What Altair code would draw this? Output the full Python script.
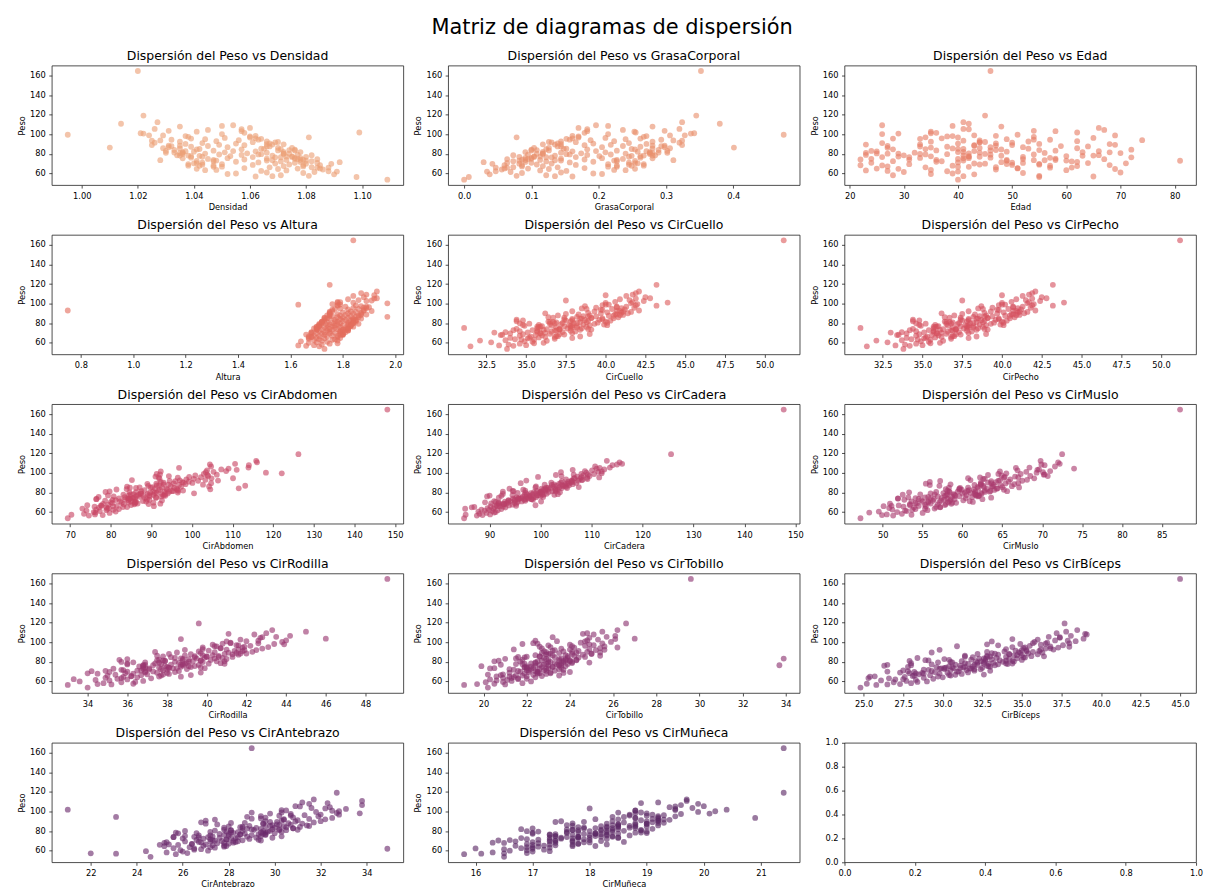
import altair as alt
import pandas as pd

# ---------------- data ----------------
peso = [
    53.7, 56.4, 56.9, 57.3, 57.6, 58.2, 59.1, 60.0, 60.5, 61.0,
    61.5, 62.0, 62.6, 63.1, 63.6, 64.1, 64.6, 65.0, 65.5, 65.9,
    66.3, 66.8, 67.2, 67.6, 68.0, 68.4, 68.8, 69.2, 69.5, 69.9,
    70.2, 70.6, 70.9, 71.3, 71.6, 72.0, 72.3, 72.6, 73.0, 73.3,
    73.6, 73.9, 74.3, 74.6, 74.9, 75.2, 75.6, 75.9, 76.2, 76.5,
    76.8, 77.1, 77.5, 77.8, 78.1, 78.4, 78.7, 79.0, 79.4, 79.7,
    80.0, 80.3, 80.6, 81.0, 81.3, 81.6, 81.9, 82.3, 82.6, 82.9,
    83.3, 83.6, 84.0, 84.3, 84.7, 85.0, 85.4, 85.8, 86.1, 86.5,
    86.9, 87.3, 87.7, 88.1, 88.5, 88.9, 89.3, 89.8, 90.2, 90.6,
    91.1, 91.5, 92.0, 92.5, 93.0, 93.5, 94.0, 94.5, 95.1, 95.7,
    96.3, 96.9, 97.5, 98.2, 98.9, 99.6, 100.3, 101.1, 101.9, 102.7,
    103.6, 104.5, 105.5, 106.6, 107.9, 109.3, 110.8, 112.4, 119.2, 164.7,
    72.5, 88.0, 64.8, 79.2, 95.4, 70.4, 83.1, 76.9, 91.8, 67.9,
    81.7, 74.2, 98.5, 69.0, 86.2, 77.7, 62.3, 92.7, 80.9, 75.0,
    84.9, 71.1, 78.3, 96.8, 66.4, 89.5, 73.8, 82.0, 101.5, 70.0,
    77.3, 93.8, 68.6, 85.6, 74.7, 80.5, 63.4, 90.8, 79.9, 105.2,
    72.9, 87.6, 76.0, 99.0, 82.8, 67.0, 94.6, 78.6, 71.8, 86.8,
    59.5, 83.9, 75.5, 90.1, 80.2, 69.6, 97.9, 73.2, 88.4, 76.6,
    65.2, 81.1, 103.2, 74.0, 92.2, 78.0, 85.2, 70.8, 100.8, 83.5,
    77.0, 68.2, 89.0, 95.9, 73.5, 81.4, 108.6, 66.0, 84.6, 79.5,
]
densidad = [
    1.109, 1.098, 1.062, 1.068, 1.081, 1.071, 1.090, 1.055, 1.079, 1.066,
    1.083, 1.091, 1.064, 1.073, 1.048, 1.086, 1.070, 1.077, 1.058, 1.084,
    1.067, 1.047, 1.079, 1.072, 1.038, 1.085, 1.061, 1.074, 1.050, 1.089,
    1.069, 1.041, 1.076, 1.063, 1.092, 1.055, 1.071, 1.047, 1.080, 1.066,
    1.028, 1.073, 1.058, 1.084, 1.045, 1.066, 1.052, 1.078, 1.039, 1.069,
    1.061, 1.043, 1.075, 1.053, 1.068, 1.035, 1.082, 1.057, 1.049, 1.064,
    1.072, 1.044, 1.059, 1.036, 1.066, 1.051, 1.078, 1.040, 1.062, 1.054,
    1.047, 1.070, 1.033, 1.076, 1.057, 1.042, 1.064, 1.029, 1.075, 1.010,
    1.052, 1.039, 1.067, 1.045, 1.031, 1.058, 1.049, 1.072, 1.037, 1.055,
    1.043, 1.026, 1.061, 1.035, 1.048, 1.025, 1.056, 1.032, 1.044, 1.039,
    1.051, 1.081, 1.038, 1.037, 1.029, 0.995, 1.050, 1.021, 1.099, 1.041,
    1.031, 1.045, 1.026, 1.060, 1.035, 1.054, 1.014, 1.027, 1.022, 1.020,
    1.082, 1.032, 1.041, 1.077, 1.064, 1.040, 1.030, 1.075, 1.069, 1.042,
    1.036, 1.079, 1.062, 1.043, 1.070, 1.039, 1.088, 1.066, 1.035, 1.076,
    1.071, 1.043, 1.038, 1.060, 1.082, 1.068, 1.078, 1.072, 1.058, 1.080,
    1.073, 1.028, 1.079, 1.035, 1.077, 1.072, 1.044, 1.067, 1.036, 1.057,
    1.041, 1.066, 1.076, 1.024, 1.037, 1.050, 1.063, 1.034, 1.078, 1.031,
    1.052, 1.074, 1.036, 1.066, 1.074, 1.038, 1.060, 1.048, 1.035, 1.071,
    1.085, 1.030, 1.057, 1.047, 1.070, 1.042, 1.065, 1.084, 1.022, 1.076,
    1.080, 1.047, 1.025, 1.062, 1.068, 1.033, 1.050, 1.088, 1.041, 1.063,
]
grasa = [
    0.000, 0.007, 0.161, 0.135, 0.078, 0.122, 0.038, 0.192, 0.086, 0.144,
    0.069, 0.034, 0.152, 0.113, 0.223, 0.056, 0.126, 0.095, 0.179, 0.064,
    0.139, 0.227, 0.086, 0.117, 0.267, 0.060, 0.166, 0.108, 0.214, 0.042,
    0.130, 0.254, 0.100, 0.157, 0.029, 0.192, 0.122, 0.227, 0.082, 0.144,
    0.311, 0.113, 0.179, 0.064, 0.236, 0.144, 0.205, 0.091, 0.262, 0.130,
    0.166, 0.245, 0.104, 0.201, 0.135, 0.280, 0.073, 0.183, 0.218, 0.152,
    0.117, 0.240, 0.174, 0.276, 0.144, 0.210, 0.091, 0.258, 0.161, 0.196,
    0.227, 0.126, 0.289, 0.100, 0.183, 0.249, 0.152, 0.306, 0.104, 0.401,
    0.205, 0.262, 0.139, 0.236, 0.298, 0.179, 0.218, 0.117, 0.271, 0.192,
    0.245, 0.320, 0.166, 0.280, 0.223, 0.324, 0.188, 0.293, 0.240, 0.262,
    0.210, 0.078, 0.267, 0.271, 0.306, 0.475, 0.214, 0.342, 0.255, 0.253,
    0.298, 0.236, 0.320, 0.170, 0.280, 0.196, 0.380, 0.324, 0.345, 0.352,
    0.073, 0.293, 0.254, 0.095, 0.152, 0.258, 0.302, 0.104, 0.130, 0.249,
    0.276, 0.086, 0.161, 0.245, 0.126, 0.262, 0.047, 0.144, 0.280, 0.100,
    0.122, 0.245, 0.267, 0.170, 0.073, 0.135, 0.091, 0.117, 0.179, 0.082,
    0.113, 0.311, 0.086, 0.280, 0.095, 0.117, 0.240, 0.139, 0.276, 0.183,
    0.254, 0.144, 0.100, 0.328, 0.271, 0.214, 0.157, 0.284, 0.091, 0.298,
    0.205, 0.108, 0.280, 0.144, 0.108, 0.267, 0.170, 0.223, 0.280, 0.122,
    0.060, 0.302, 0.183, 0.227, 0.126, 0.249, 0.148, 0.064, 0.337, 0.100,
    0.082, 0.227, 0.324, 0.161, 0.135, 0.289, 0.214, 0.047, 0.254, 0.157,
]
edad = [
    40, 55, 65, 41, 55, 28, 43, 39, 52, 70,
    30, 40, 27, 23, 35, 47, 69, 25, 51, 57,
    34, 42, 27, 62, 39, 22, 50, 44, 31, 55,
    43, 64, 24, 40, 48, 36, 61, 28, 81, 41,
    54, 49, 22, 67, 40, 58, 42, 33, 46, 72,
    26, 44, 35, 60, 48, 41, 66, 23, 54, 38,
    45, 29, 42, 56, 32, 68, 40, 49, 25, 43,
    58, 36, 47, 72, 28, 41, 53, 62, 44, 35,
    52, 38, 64, 27, 47, 43, 69, 33, 55, 40,
    26, 50, 44, 35, 62, 41, 74, 57, 49, 28,
    65, 34, 54, 39, 69, 51, 26, 35, 62, 35,
    54, 67, 41, 66, 48, 26, 42, 41, 45, 46,
    37, 59, 29, 46, 33, 71, 24, 52, 44, 57,
    63, 31, 47, 55, 27, 42, 38, 53, 70, 24,
    34, 50, 65, 40, 47, 23, 58, 41, 36, 45,
    29, 44, 68, 39, 52, 25, 60, 47, 33, 42,
    49, 33, 57, 43, 66, 40, 54, 30, 62, 46,
    35, 55, 41, 68, 27, 49, 38, 60, 43, 31,
    51, 23, 58, 36, 45, 63, 40, 52, 29, 46,
    42, 26, 50, 37, 56, 44, 39, 61, 48, 34,
]
altura = [
    1.73, 1.71, 1.66, 1.63, 1.69, 1.72, 1.75, 1.67, 1.70, 1.74,
    1.64, 1.72, 1.69, 1.76, 1.71, 1.67, 1.73, 1.70, 1.78, 1.68,
    1.74, 1.71, 1.76, 1.69, 1.73, 1.66, 1.80, 1.72, 1.75, 1.70,
    1.77, 1.73, 1.68, 1.75, 1.79, 1.71, 1.74, 1.82, 1.70, 1.76,
    1.72, 1.78, 1.75, 1.69, 1.81, 1.74, 1.77, 1.73, 1.79, 1.84,
    1.76, 1.71, 1.80, 1.77, 1.74, 1.83, 1.78, 1.75, 1.86, 1.72,
    1.79, 1.76, 1.82, 1.74, 1.78, 1.85, 1.77, 1.80, 1.73, 1.83,
    1.81, 1.77, 1.84, 1.79, 1.87, 1.75, 1.82, 1.80, 1.78, 1.97,
    1.76, 1.83, 1.79, 1.86, 1.81, 1.89, 1.78, 1.84, 1.82, 1.87,
    1.80, 1.85, 1.83, 1.91, 0.75, 1.88, 1.82, 1.86, 1.79, 1.84,
    1.90, 1.81, 1.87, 1.85, 1.63, 1.76, 1.97, 1.84, 1.78, 1.89,
    1.86, 1.82, 1.93, 1.88, 1.84, 1.89, 1.87, 1.93, 1.75, 1.84,
    1.82, 1.74, 1.79, 1.71, 1.89, 1.68, 1.85, 1.83, 1.75, 1.80,
    1.72, 1.82, 1.78, 1.80, 1.86, 1.71, 1.78, 1.88, 1.84, 1.70,
    1.74, 1.80, 1.82, 1.89, 1.67, 1.87, 1.70, 1.84, 1.79, 1.79,
    1.83, 1.76, 1.80, 1.73, 1.82, 1.72, 1.77, 1.75, 1.84, 1.92,
    1.80, 1.75, 1.70, 1.79, 1.84, 1.78, 1.77, 1.71, 1.79, 1.85,
    1.78, 1.73, 1.82, 1.75, 1.84, 1.68, 1.78, 1.81, 1.87, 1.70,
    1.67, 1.72, 1.91, 1.70, 1.76, 1.83, 1.73, 1.81, 1.78, 1.85,
    1.71, 1.79, 1.75, 1.88, 1.80, 1.72, 1.92, 1.68, 1.84, 1.82,
]
cir_cuello = [
    33.8, 31.5, 34.2, 33.3, 35.0, 33.9, 34.6, 36.1, 32.8, 35.4,
    34.9, 36.3, 33.7, 35.5, 34.3, 36.8, 35.1, 34.0, 35.8, 36.2,
    35.3, 37.0, 34.6, 36.0, 35.6, 37.4, 34.8, 36.5, 35.9, 37.9,
    36.2, 35.1, 37.3, 36.6, 38.1, 35.7, 37.8, 36.9, 35.4, 38.4,
    37.1, 36.3, 34.4, 37.6, 38.5, 31.1, 36.9, 37.9, 38.8, 35.9,
    37.4, 38.2, 36.6, 39.0, 37.7, 35.8, 38.6, 37.2, 39.3, 36.8,
    38.0, 37.3, 39.5, 38.4, 36.5, 40.0, 37.8, 38.9, 40.3, 37.5,
    38.7, 34.4, 39.8, 37.9, 38.5, 40.5, 39.1, 37.4, 40.8, 38.2,
    39.4, 38.6, 40.2, 39.0, 41.1, 38.3, 40.6, 39.7, 41.4, 38.9,
    40.1, 41.6, 39.3, 40.9, 42.1, 39.8, 41.2, 40.4, 38.5, 41.8,
    40.7, 41.3, 38.7, 41.9, 40.0, 42.0, 41.6, 43.9, 40.6, 42.4,
    41.5, 40.9, 42.8, 42.5, 41.3, 41.7, 41.9, 42.1, 43.2, 51.2,
    36.8, 37.0, 37.9, 36.5, 41.0, 33.0, 37.9, 36.0, 41.1, 33.4,
    36.4, 38.9, 39.8, 39.0, 36.4, 37.9, 32.1, 40.7, 36.9, 37.8,
    39.8, 35.7, 34.8, 40.7, 38.4, 37.5, 37.1, 34.4, 41.7, 35.9,
    34.9, 39.7, 37.1, 36.7, 35.7, 40.1, 34.7, 41.0, 34.6, 41.9,
    34.2, 40.5, 35.8, 40.2, 34.8, 36.9, 38.8, 39.9, 34.6, 38.9,
    35.5, 37.4, 38.2, 36.2, 38.2, 34.0, 43.2, 36.1, 40.9, 35.7,
    35.2, 38.8, 37.5, 37.1, 37.9, 40.1, 39.1, 33.7, 40.0, 39.6,
    37.8, 33.5, 40.7, 39.4, 39.1, 36.7, 40.0, 36.8, 38.4, 35.2,
]
# the reference's "CirPecho" panel shows exactly the same cloud as "CirCuello"
cir_pecho = cir_cuello
cir_abdomen = [
    69.4, 74.6, 78.0, 70.3, 76.1, 73.4, 79.7, 75.8, 81.2, 77.3,
    74.0, 78.9, 76.4, 82.0, 73.0, 79.5, 77.1, 84.0, 76.0, 80.6,
    81.5, 77.6, 85.0, 79.4, 83.2, 78.1, 86.6, 80.3, 82.7, 84.4,
    80.0, 85.8, 82.3, 87.9, 78.6, 84.3, 81.2, 89.5, 83.5, 86.0,
    84.8, 82.0, 88.4, 85.5, 91.2, 83.4, 87.1, 80.7, 89.6, 86.3,
    88.0, 84.4, 90.5, 86.8, 92.7, 85.6, 89.1, 94.0, 87.4, 91.3,
    89.7, 86.2, 93.2, 90.4, 87.5, 95.1, 91.7, 88.3, 96.4, 92.1,
    104.5, 93.7, 90.9, 111.5, 95.6, 89.8, 92.6, 97.3, 84.0, 94.8,
    113.1, 91.3, 96.8, 94.2, 98.4, 89.0, 95.5, 100.1, 93.0, 97.6,
    99.2, 95.9, 101.5, 97.0, 103.3, 98.6, 100.4, 104.8, 96.5, 102.2,
    91.0, 104.0, 100.8, 106.1, 102.9, 122.1, 118.2, 105.3, 108.4, 103.7,
    107.2, 109.0, 113.9, 104.7, 114.0, 110.6, 116.0, 115.8, 126.2, 148.1,
    80.4, 102.7, 78.9, 100.5, 91.8, 86.2, 81.4, 93.0, 94.5, 85.8,
    96.6, 84.2, 92.1, 85.9, 104.2, 83.1, 80.6, 85.2, 94.4, 85.8,
    84.7, 85.0, 93.3, 94.3, 77.7, 104.7, 84.5, 97.8, 92.3, 86.0,
    89.4, 92.0, 92.2, 90.2, 91.1, 78.7, 79.1, 92.3, 96.5, 96.8,
    88.9, 91.9, 92.4, 91.3, 93.9, 74.2, 110.1, 87.4, 92.6, 89.2,
    76.2, 96.2, 77.0, 97.9, 84.6, 90.5, 103.8, 76.4, 93.0, 93.4,
    83.0, 79.7, 111.0, 84.6, 106.4, 84.9, 87.1, 88.7, 103.4, 83.9,
    79.3, 89.3, 91.2, 99.3, 76.5, 95.3, 104.4, 90.6, 86.2, 90.8,
]
cir_cadera = [
    85.0, 87.5, 88.6, 85.3, 90.1, 88.0, 89.4, 91.2, 87.8, 90.5,
    89.0, 91.6, 88.4, 92.3, 90.7, 89.6, 93.1, 91.0, 92.6, 90.2,
    92.0, 93.8, 91.4, 94.5, 92.9, 95.2, 93.3, 91.8, 94.9, 93.6,
    95.5, 93.0, 96.3, 94.1, 97.0, 95.0, 93.7, 96.8, 95.7, 98.2,
    94.6, 97.5, 96.0, 98.6, 95.3, 99.1, 97.2, 96.5, 98.0, 100.0,
    97.8, 99.5, 96.9, 100.6, 98.4, 97.3, 101.2, 99.0, 98.1, 100.3,
    99.8, 98.7, 101.6, 100.0, 102.3, 99.3, 101.0, 102.9, 100.5, 103.4,
    101.4, 103.0, 100.2, 104.1, 102.0, 101.1, 103.7, 105.0, 102.6, 104.4,
    103.1, 105.6, 102.2, 104.8, 106.3, 103.6, 105.2, 107.0, 104.0, 106.0,
    105.4, 104.2, 107.4, 106.1, 108.2, 105.0, 107.7, 106.6, 109.1, 108.0,
    107.2, 109.6, 108.4, 106.5, 110.5, 112.0, 109.0, 111.3, 108.7, 110.1,
    112.5, 111.0, 113.6, 110.7, 114.1, 116.0, 115.5, 113.0, 125.6, 147.7,
    98.5, 100.8, 86.5, 99.9, 111.5, 91.2, 101.0, 90.0, 106.1, 92.7,
    94.5, 96.3, 109.3, 90.3, 99.1, 102.7, 89.9, 108.1, 92.6, 97.7,
    101.5, 90.9, 103.4, 104.1, 95.2, 96.1, 95.6, 97.0, 112.0, 89.1,
    94.5, 109.2, 92.7, 107.5, 91.8, 100.1, 85.2, 106.3, 97.0, 111.6,
    94.9, 104.2, 89.5, 108.0, 96.6, 99.0, 106.6, 92.6, 93.7, 104.8,
    90.9, 93.9, 100.5, 102.1, 103.8, 91.8, 103.0, 98.2, 102.6, 92.3,
    87.0, 103.0, 106.3, 95.7, 97.2, 100.3, 99.0, 100.1, 104.0, 100.8,
    99.2, 91.8, 105.5, 99.5, 97.1, 94.7, 115.0, 91.5, 105.2, 95.5,
]
cir_muslo = [
    47.2, 51.3, 49.9, 53.6, 50.5, 52.4, 55.0, 51.8, 49.5, 53.0,
    52.8, 55.6, 51.2, 54.1, 56.5, 50.8, 53.9, 57.2, 52.6, 55.4,
    54.5, 52.0, 57.8, 55.3, 53.4, 58.6, 56.0, 54.1, 59.2, 55.7,
    57.1, 55.0, 53.6, 58.4, 56.3, 60.1, 54.8, 57.7, 59.0, 56.4,
    58.1, 56.0, 60.4, 57.4, 55.3, 61.2, 58.7, 56.9, 59.6, 62.0,
    57.8, 60.5, 59.0, 61.7, 56.5, 58.9, 62.4, 60.0, 57.6, 61.0,
    60.3, 58.4, 62.8, 59.4, 61.6, 63.5, 58.1, 60.8, 64.0, 59.9,
    61.4, 63.1, 59.6, 64.4, 62.0, 60.7, 65.0, 61.9, 63.7, 66.2,
    62.6, 64.8, 61.5, 63.9, 66.5, 62.3, 65.4, 67.0, 63.2, 64.2,
    65.8, 63.6, 67.5, 64.7, 68.1, 66.0, 62.8, 69.0, 65.2, 67.0,
    66.6, 68.5, 64.9, 70.2, 67.3, 65.5, 69.3, 68.0, 71.0, 66.9,
    69.6, 74.0, 68.4, 71.6, 70.3, 72.2, 72.0, 69.8, 72.5, 87.3,
    52.7, 62.3, 57.2, 56.0, 62.2, 61.3, 59.6, 62.1, 57.2, 56.9,
    60.6, 54.1, 70.3, 54.3, 63.8, 52.5, 53.7, 61.0, 63.4, 53.2,
    58.3, 60.9, 58.1, 70.7, 51.1, 63.6, 51.9, 62.8, 64.7, 58.2,
    61.7, 62.6, 50.9, 62.7, 63.6, 56.7, 55.3, 55.9, 61.6, 66.7,
    58.5, 55.9, 61.9, 64.5, 65.2, 53.4, 60.7, 61.5, 57.3, 57.1,
    48.3, 64.3, 55.7, 62.3, 53.3, 58.7, 63.2, 62.5, 58.5, 59.1,
    56.7, 58.3, 69.4, 51.9, 64.5, 54.7, 67.1, 55.7, 70.1, 57.9,
    58.0, 57.9, 55.4, 65.3, 54.5, 65.6, 69.9, 50.1, 59.7, 62.3,
]
cir_rodilla = [
    34.0, 33.0, 35.2, 34.5, 36.3, 34.8, 35.7, 33.6, 36.8, 35.1,
    34.4, 36.0, 35.5, 37.2, 34.9, 36.5, 35.8, 37.6, 36.2, 35.0,
    36.7, 35.4, 37.0, 38.1, 36.3, 35.9, 37.5, 36.9, 38.4, 36.0,
    37.3, 38.6, 36.5, 37.8, 35.8, 38.0, 37.1, 39.0, 36.8, 38.3,
    38.5, 36.9, 37.6, 39.2, 38.0, 36.6, 39.4, 37.9, 38.8, 37.3,
    39.6, 38.2, 37.7, 38.9, 40.1, 37.4, 39.0, 38.6, 36.9, 39.8,
    38.4, 39.3, 40.5, 37.9, 39.7, 38.8, 40.2, 37.6, 39.1, 41.0,
    39.5, 38.7, 40.8, 39.9, 38.2, 41.3, 40.0, 39.4, 40.6, 38.9,
    40.3, 41.6, 39.2, 40.9, 42.0, 39.7, 41.1, 40.4, 42.3, 39.6,
    41.4, 40.1, 42.5, 41.0, 39.8, 42.8, 40.7, 41.8, 43.1, 40.5,
    42.2, 41.5, 40.3, 43.4, 42.6, 41.2, 43.8, 42.0, 44.0, 41.7,
    46.0, 42.7, 43.5, 44.2, 42.4, 43.0, 45.0, 43.3, 39.6, 49.1,
    37.7, 38.1, 38.7, 37.6, 41.9, 34.2, 38.8, 36.9, 41.9, 34.5,
    37.5, 39.7, 40.8, 39.7, 37.5, 38.8, 33.3, 41.6, 37.9, 38.7,
    40.6, 36.7, 36.0, 41.6, 39.2, 38.5, 38.1, 35.6, 42.6, 36.9,
    36.0, 40.7, 38.0, 37.8, 36.8, 40.9, 35.7, 41.8, 35.7, 42.8,
    35.3, 41.3, 36.8, 41.2, 36.0, 37.8, 39.8, 40.7, 35.7, 39.8,
    36.4, 38.4, 39.1, 37.4, 39.1, 35.1, 43.9, 37.1, 41.7, 36.8,
    36.2, 39.7, 38.7, 38.1, 38.9, 40.9, 40.0, 34.9, 41.0, 40.4,
    38.7, 34.0, 41.5, 40.4, 39.9, 37.8, 41.1, 37.7, 39.4, 36.3,
]
cir_tobillo = [
    20.2, 19.1, 21.0, 19.7, 20.5, 21.8, 20.1, 22.2, 21.3, 20.6,
    21.1, 20.3, 22.0, 21.6, 20.9, 22.4, 21.4, 20.6, 22.7, 21.8,
    21.5, 22.3, 20.9, 22.9, 21.9, 22.6, 21.2, 23.1, 22.1, 21.7,
    22.5, 21.6, 23.3, 22.0, 22.8, 21.4, 23.5, 22.2, 22.6, 23.0,
    22.3, 23.6, 21.9, 22.7, 23.2, 22.0, 23.8, 22.4, 23.0, 33.7,
    22.6, 23.4, 21.8, 23.9, 22.9, 22.2, 24.1, 23.3, 22.4, 23.7,
    23.1, 22.5, 24.0, 23.5, 22.7, 24.3, 23.0, 21.8, 23.8, 22.9,
    33.9, 23.6, 22.8, 24.4, 23.3, 24.7, 22.6, 23.9, 24.2, 23.2,
    23.8, 24.6, 23.0, 24.1, 25.0, 23.5, 24.3, 22.9, 24.8, 23.7,
    24.4, 23.2, 25.2, 24.0, 24.9, 23.6, 25.4, 24.2, 23.1, 25.6,
    24.7, 25.1, 24.0, 21.8, 25.5, 24.5, 25.9, 23.4, 24.8, 25.3,
    27.0, 24.9, 25.7, 26.1, 25.1, 24.8, 25.5, 26.2, 26.6, 29.6,
    21.2, 25.0, 21.2, 24.9, 22.6, 22.4, 21.0, 23.5, 23.3, 22.5,
    24.0, 21.9, 22.5, 22.5, 25.4, 21.5, 21.6, 21.4, 23.7, 22.2,
    21.6, 22.1, 23.6, 23.0, 20.8, 25.4, 22.0, 24.3, 22.4, 22.5,
    22.8, 22.7, 23.7, 22.6, 23.2, 20.5, 21.3, 22.8, 24.1, 23.2,
    22.9, 22.9, 23.5, 22.3, 23.5, 20.2, 26.2, 22.4, 23.7, 22.4,
    20.9, 23.9, 19.9, 24.1, 21.7, 24.0, 24.9, 20.3, 23.1, 23.6,
    22.0, 20.7, 26.1, 22.0, 25.6, 21.9, 22.0, 22.9, 24.7, 21.5,
    20.8, 23.1, 22.7, 24.1, 20.5, 23.8, 24.6, 23.5, 21.9, 23.0,
]
cir_biceps = [
    24.8, 25.8, 26.5, 27.3, 25.2, 28.0, 26.9, 29.0, 27.7, 26.1,
    28.3, 27.0, 29.4, 26.6, 28.8, 30.0, 27.6, 29.7, 28.1, 30.5,
    29.2, 30.8, 28.5, 31.2, 29.8, 27.9, 30.3, 31.6, 29.5, 30.9,
    31.0, 29.3, 32.0, 30.5, 31.5, 28.8, 32.4, 30.1, 31.8, 29.9,
    30.7, 32.5, 31.3, 29.6, 33.0, 31.9, 30.4, 32.8, 31.1, 33.3,
    32.2, 30.8, 33.5, 31.6, 32.9, 34.0, 31.4, 33.2, 30.6, 32.6,
    33.8, 32.1, 31.2, 34.4, 32.7, 33.6, 35.0, 31.8, 33.1, 34.2,
    32.3, 34.7, 33.4, 35.2, 31.9, 34.0, 33.0, 35.6, 32.8, 34.5,
    35.0, 33.5, 36.0, 34.2, 35.4, 33.1, 36.3, 34.8, 35.7, 33.9,
    36.1, 34.6, 35.3, 37.0, 34.0, 36.5, 35.1, 37.3, 34.4, 36.8,
    35.5, 37.6, 36.2, 34.9, 38.0, 36.6, 35.8, 38.4, 37.1, 36.0,
    38.9, 37.4, 36.7, 38.1, 39.1, 37.2, 37.8, 38.5, 37.7, 45.0,
    32.0, 32.2, 25.4, 32.2, 38.0, 27.8, 32.7, 26.5, 35.0, 28.8,
    28.9, 30.6, 36.5, 27.3, 31.4, 34.1, 27.5, 36.2, 27.9, 31.4,
    32.8, 27.5, 34.4, 33.5, 30.4, 29.3, 30.1, 30.4, 37.9, 26.5,
    29.3, 36.8, 28.7, 36.4, 27.8, 32.4, 25.3, 35.3, 30.5, 37.4,
    29.8, 34.2, 26.3, 35.7, 30.1, 32.6, 35.2, 28.0, 29.1, 34.7,
    28.4, 28.4, 32.9, 32.8, 34.5, 28.2, 32.8, 31.7, 33.3, 28.0,
    25.7, 34.0, 34.4, 30.2, 29.8, 32.6, 31.4, 33.0, 33.1, 32.6,
    32.0, 28.3, 34.9, 30.9, 31.1, 29.1, 39.0, 28.2, 35.1, 29.7,
]
cir_antebrazo = [
    24.6, 25.7, 23.1, 22.0, 26.2, 25.3, 26.0, 27.1, 25.9, 26.5,
    26.8, 34.9, 25.6, 27.4, 26.3, 27.8, 25.2, 26.9, 27.3, 25.8,
    27.0, 26.4, 28.0, 27.5, 25.2, 26.8, 28.3, 27.2, 26.1, 27.7,
    27.4, 28.6, 26.6, 27.9, 27.2, 28.9, 26.9, 28.1, 27.6, 29.2,
    28.4, 27.1, 28.8, 27.3, 29.4, 28.0, 26.7, 29.0, 27.8, 28.5,
    29.3, 27.6, 28.7, 30.0, 28.2, 25.7, 29.6, 28.4, 30.3, 27.9,
    28.6, 29.8, 28.1, 30.5, 29.1, 27.8, 30.2, 29.4, 28.8, 30.8,
    29.2, 30.0, 28.5, 31.1, 29.6, 30.4, 28.9, 31.4, 29.9, 30.7,
    30.1, 29.5, 31.2, 30.6, 28.7, 31.7, 29.8, 30.9, 32.0, 30.3,
    31.0, 30.4, 32.2, 31.5, 29.4, 32.5, 30.8, 23.1, 31.9, 30.2,
    31.3, 32.0, 30.7, 33.7, 29.0, 31.8, 32.8, 30.5, 21.0, 33.1,
    31.6, 32.4, 30.9, 33.8, 31.5, 31.2, 33.8, 31.7, 32.7, 29.0,
    26.0, 29.5, 27.9, 27.2, 29.4, 29.4, 28.6, 29.6, 27.4, 27.8,
    29.0, 26.5, 32.7, 26.7, 30.2, 25.8, 26.5, 29.0, 30.2, 26.1,
    28.0, 29.3, 28.1, 32.8, 25.4, 30.1, 25.6, 29.9, 30.3, 28.2,
    29.5, 29.6, 25.3, 29.8, 30.3, 27.4, 27.2, 27.0, 29.5, 31.1,
    28.3, 27.0, 29.6, 30.3, 30.8, 26.4, 28.8, 29.4, 27.9, 27.5,
    24.4, 30.5, 27.2, 29.6, 26.1, 28.4, 29.8, 29.9, 28.1, 28.5,
    27.8, 28.1, 32.2, 25.6, 30.4, 26.6, 31.5, 27.3, 32.5, 27.8,
    28.0, 28.2, 26.8, 30.7, 26.7, 31.0, 32.3, 25.0, 28.6, 29.7,
]
cir_muneca = [
    16.5, 15.8, 16.1, 16.5, 16.9, 16.3, 17.0, 16.6, 16.9, 17.2,
    16.5, 17.0, 16.8, 17.3, 16.9, 17.1, 17.7, 16.7, 17.4, 17.0,
    17.3, 16.9, 17.8, 17.1, 17.4, 18.0, 17.0, 17.7, 17.3, 18.2,
    17.7, 17.4, 18.0, 17.1, 17.9, 18.3, 17.5, 17.8, 18.5, 17.3,
    18.0, 17.6, 18.2, 17.8, 18.4, 17.4, 18.7, 18.0, 17.7, 18.3,
    18.2, 17.9, 18.5, 18.1, 17.6, 18.8, 18.3, 17.8, 18.4, 19.0,
    18.0, 18.6, 18.3, 17.7, 18.9, 18.2, 18.5, 19.1, 17.9, 18.4,
    18.8, 18.3, 17.8, 18.5, 19.0, 18.2, 18.7, 19.2, 18.4, 18.8,
    18.5, 19.0, 18.3, 18.8, 19.3, 18.6, 17.4, 19.0, 18.4, 19.2,
    18.9, 19.4, 18.5, 19.1, 18.8, 20.9, 19.2, 18.6, 19.5, 19.0,
    19.3, 18.7, 19.6, 19.0, 18.5, 19.9, 20.2, 18.8, 20.4, 19.5,
    19.8, 19.4, 20.0, 19.6, 19.9, 19.2, 19.7, 19.7, 21.4, 21.4,
    17.7, 17.7, 18.1, 17.6, 19.2, 16.4, 18.1, 17.4, 19.3, 16.5,
    17.6, 18.4, 18.8, 18.6, 17.6, 18.1, 16.0, 19.2, 17.8, 18.1,
    18.8, 17.3, 17.0, 19.1, 18.3, 17.9, 17.8, 16.8, 19.5, 17.4,
    17.0, 18.8, 17.9, 17.7, 17.4, 18.9, 17.0, 19.2, 16.9, 19.5,
    16.8, 19.0, 17.3, 18.9, 17.0, 17.8, 18.4, 18.9, 16.9, 18.5,
    17.3, 17.9, 18.3, 17.5, 18.2, 16.7, 20.1, 17.5, 19.2, 17.3,
    17.2, 18.4, 18.0, 17.8, 18.1, 19.0, 18.5, 16.6, 18.8, 18.7,
    18.1, 16.3, 19.1, 18.7, 18.5, 17.7, 18.9, 17.7, 18.3, 17.1,
]

# panel names (axis labels) and tick labels
variables = ["Densidad", "GrasaCorporal", "Edad", "Altura", "CirCuello", "CirPecho",
             "CirAbdomen", "CirCadera", "CirMuslo", "CirRodilla", "CirTobillo",
             "CirBíceps", "CirAntebrazo", "CirMuñeca"]
series = [densidad, grasa, edad, altura, cir_cuello, cir_pecho, cir_abdomen,
          cir_cadera, cir_muslo, cir_rodilla, cir_tobillo, cir_biceps,
          cir_antebrazo, cir_muneca]
x_ticks = [
    [1.00, 1.02, 1.04, 1.06, 1.08, 1.10],
    [0.0, 0.1, 0.2, 0.3, 0.4],
    [20, 30, 40, 50, 60, 70, 80],
    [0.8, 1.0, 1.2, 1.4, 1.6, 1.8, 2.0],
    [32.5, 35.0, 37.5, 40.0, 42.5, 45.0, 47.5, 50.0],
    [32.5, 35.0, 37.5, 40.0, 42.5, 45.0, 47.5, 50.0],
    [70, 80, 90, 100, 110, 120, 130, 140, 150],
    [90, 100, 110, 120, 130, 140, 150],
    [50, 55, 60, 65, 70, 75, 80, 85],
    [34, 36, 38, 40, 42, 44, 46, 48],
    [20, 22, 24, 26, 28, 30, 32, 34],
    [25.0, 27.5, 30.0, 32.5, 35.0, 37.5, 40.0, 42.5, 45.0],
    [22, 24, 26, 28, 30, 32, 34],
    [16, 17, 18, 19, 20, 21],
]
x_formats = [".2f", ".1f", "d", ".1f", ".1f", ".1f", "d", "d", "d", "d", "d", ".1f", "d", "d"]
y_ticks = [60, 80, 100, 120, 140, 160]
empty_ticks = [0.0, 0.2, 0.4, 0.6, 0.8, 1.0]
colors = ["#eca076", "#e98f6c", "#e77e65", "#e46d5e", "#dd5e5e", "#d55060", "#c84664",
          "#ba4069", "#aa3a6d", "#9a366f", "#8a3270", "#7a2e6f", "#6a2a6c", "#5a2664"]

W, H = 353, 120


def padded(vals):
    lo, hi = min(vals), max(vals)
    m = (hi - lo) * 0.05
    return [lo - m, hi + m]


y_dom = padded(peso)
panels = []
for i, (name, vals) in enumerate(zip(variables, series)):
    df = pd.DataFrame({"x": vals, "Peso": peso})
    ch = alt.Chart(df).mark_circle(size=34, opacity=0.62, color=colors[i]).encode(
        x=alt.X("x:Q",
                scale=alt.Scale(domain=padded(vals), nice=False, zero=False),
                axis=alt.Axis(title=name, values=x_ticks[i], format=x_formats[i])),
        y=alt.Y("Peso:Q",
                scale=alt.Scale(domain=y_dom, nice=False, zero=False),
                axis=alt.Axis(title="Peso", values=y_ticks, format="d")),
    ).properties(width=W, height=H, title=f"Dispersión del Peso vs {name}")
    panels.append(ch)

empty = alt.Chart(pd.DataFrame({"a": [0.5], "b": [0.5]})).mark_point(opacity=0).encode(
    x=alt.X("a:Q", scale=alt.Scale(domain=[0, 1], nice=False, zero=False),
            axis=alt.Axis(title=None, values=empty_ticks, format=".1f")),
    y=alt.Y("b:Q", scale=alt.Scale(domain=[0, 1], nice=False, zero=False),
            axis=alt.Axis(title=None, values=empty_ticks, format=".1f")),
).properties(width=W, height=H)
panels.append(empty)

chart = alt.concat(
    *panels, columns=3, spacing={"row": 50, "column": 45}, bounds="flush"
).properties(
    title=alt.TitleParams("Matriz de diagramas de dispersión", fontSize=21,
                          anchor="middle", dx=2, offset=12),
    padding={"left": 17, "top": 15, "right": 5, "bottom": 5},
).configure(
    font="DejaVu Sans",
).configure_view(
    stroke="#222", strokeWidth=0.8,
).configure_axis(
    labelFont="DejaVu Sans", titleFont="DejaVu Sans",
    labelFontSize=8.3, titleFontSize=8.3, titleFontWeight="normal",
    labelColor="#000", titleColor="#000", tickColor="#222",
    tickSize=3, tickWidth=0.8, domain=False, grid=False,
    labelPadding=3.5, titlePadding=3, labelFlush=False, labelOverlap=False,
).configure_title(
    font="DejaVu Sans", fontSize=12.5, fontWeight="normal", color="#000", offset=3,
)

chart.save("out.html", embed_options={"renderer": "svg", "actions": False})
